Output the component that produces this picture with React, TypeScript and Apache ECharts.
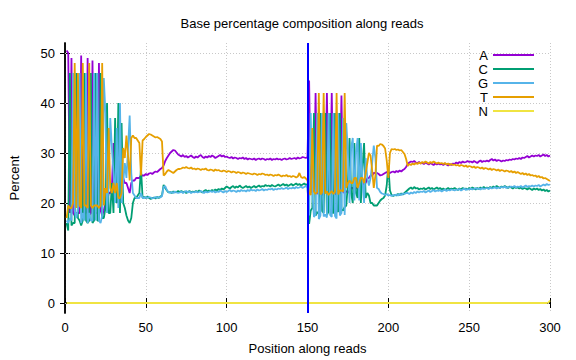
import React, { useEffect, useRef } from "react";
import * as echarts from "echarts";

const titleText = "Base percentage composition along reads";
const xName = "Position along reads";
const yName = "Percent";
const baseNames = ["A", "C", "G", "T", "N"];
const baseColors = ["#9400d3", "#009e73", "#56b4e9", "#e69f00", "#f0e442"];
const xTicks = [0, 50, 100, 150, 200, 250, 300];
const yTicks = [0, 10, 20, 30, 40, 50];
const readBoundary = 150;
const positions = Array.from({ length: 300 }, (_, i) => i + 1);

const aValues = [
  50.5, 50, 18, 49, 18, 17.5, 18, 18, 18, 49.5,
  17.5, 18, 18, 49, 17.5, 18, 48.5, 18, 18, 18,
  48, 18.5, 17.5, 18.5, 20, 20, 22, 22, 23, 32,
  21, 21, 20, 21, 22, 25, 24, 24, 23, 22,
  24, 24.5, 24.5, 25, 25, 25, 25.5, 25.5, 25.5, 25.8,
  25.6, 25.9, 26, 25.8, 26.1, 26.3, 26.2, 26.5, 26.8, 27,
  27.5, 28.4, 29, 29.5, 30, 30.3, 30.6, 30.5, 30.1, 29.7,
  29.5, 29.3, 29.6, 29.2, 29.4, 29.1, 29.3, 29.5, 29.2, 29.0,
  29.3, 29.1, 29.4, 29.6, 29.2, 29.0, 29.3, 29.1, 29.4, 29.2,
  29.5, 29.3, 29.0, 29.2, 29.4, 29.6, 29.3, 29.5, 29.2, 29.3,
  29.1, 29.0, 29.2, 28.9, 29.1, 29.0, 28.8, 29.0, 28.9, 29.1,
  28.8, 29.0, 28.7, 28.9, 28.8, 28.7, 28.9, 28.6, 28.8, 28.9,
  28.7, 28.9, 28.8, 28.6, 28.8, 28.7, 28.9, 28.6, 28.8, 28.7,
  28.9, 28.7, 28.8, 28.6, 28.8, 28.9, 28.7, 28.8, 29.0, 28.8,
  28.9, 29.0, 28.8, 29.1, 28.9, 29.0, 29.2, 29.1, 29.0, 29.2,
  44.5, 22, 24, 22.3, 42, 21.8, 22.4, 22, 21.6, 22.2,
  22.5, 42, 21.8, 22.3, 42, 22, 21.7, 22.4, 22.1, 21.9,
  41.5, 22.2, 22, 22.4, 22, 22.5, 23, 23, 22.5, 23,
  23, 22.5, 23, 23.5, 24, 24, 25, 25, 25.5, 25.5,
  26, 26, 26, 25.8, 25.5, 25.6, 25.8, 26, 26.2, 26,
  26, 26.2, 26.3, 26.1, 26.4, 26.2, 26.5, 26.3, 26.6, 26.8, 27.2,
  27.8, 28.1, 28.3, 28.2, 28.4, 28.1, 28.0, 28.2, 27.9,
  28.0, 27.8, 28.1, 27.9, 27.7, 28.0, 27.8, 27.6, 27.9, 27.7,
  27.9, 27.7, 27.8, 27.6, 27.9, 27.7, 27.5, 27.8, 27.6, 27.9,
  27.8, 28.1, 27.9, 28.2, 28.0, 28.3, 28.1, 28.2, 28.4, 28.2,
  28.3, 28.1, 28.4, 28.2, 28.0, 28.3, 28.5, 28.2, 28.4, 28.3,
  28.5, 28.3, 28.6, 28.8, 28.5, 28.7, 28.4, 28.6, 28.5, 28.3,
  28.5, 28.4, 28.6, 28.5, 28.7, 28.6, 28.8, 28.7, 28.9, 28.8,
  29.0, 28.8, 29.1, 29.0, 29.2, 29.4, 29.1, 29.3, 29.5, 29.3,
  29.5, 29.4, 29.6, 29.3, 29.5, 29.7, 29.4, 29.6, 29.3, 29.5,
];

const cValues = [
  16, 14.5, 46, 15.5, 16, 16, 46, 17, 16.5, 15.5,
  16.5, 46, 16.5, 16, 16.5, 46, 16, 16.5, 46, 16.5,
  16.5, 46, 17, 17, 19, 40, 18, 18, 24, 18,
  37, 20, 40, 18, 36, 20, 19, 17.5, 16.5, 16,
  17, 20, 21, 21, 21.5, 22, 27, 21, 21.2, 21,
  21.3, 21, 20.8, 21, 21.1, 20.9, 21.2, 21, 21.3, 21.5,
  23.6, 23, 22.5, 22.1, 22.2, 22, 22.3, 22.1, 22.2, 22.4,
  22.2, 22.4, 22.1, 22.3, 22.0, 22.2, 22.4, 22.1, 22.3, 22.2,
  22.4, 22.2, 22.5, 22.3, 22.1, 22.4, 22.6, 22.3, 22.5, 22.4,
  22.6, 22.4, 22.7, 22.5, 22.8, 22.6, 22.9, 22.7, 23.0, 23.3,
  23.1, 22.9, 23.2, 23.4, 23.0, 23.3, 23.1, 23.5, 23.2, 23.0,
  23.2, 23.4, 23.1, 23.3, 23.0, 23.2, 23.4, 23.1, 23.3, 23.5,
  23.2, 23.4, 23.3, 23.6, 23.4, 23.5, 23.3, 23.6, 23.4, 23.3,
  23.5, 23.7, 23.4, 23.6, 23.8, 23.5, 23.7, 23.4, 23.6, 23.8,
  23.5, 23.7, 23.9, 23.6, 23.8, 23.5, 23.7, 23.9, 23.6, 23.8,
  15.8, 18.5, 19, 38, 17.5, 18.2, 17.8, 38, 18.4, 18,
  38, 17.6, 18.3, 38, 18.5, 17.9, 38, 18.6, 18.2, 38,
  18.8, 18.5, 19.2, 19.5, 24, 33, 22, 20, 32, 22,
  21, 33, 20, 27, 32, 21, 22, 21.5, 20, 20,
  19.5, 19.5, 19.5, 20, 20.5, 20.8, 21, 21.5, 23.5, 27.5,
  22.5, 21.6, 21.4, 21.6, 21.5, 21.8, 21.6, 21.9, 21.7, 22, 22.3,
  22.6, 22.9, 23.1, 22.8, 23.2, 22.9, 23.0, 22.7, 22.9,
  22.8, 23.0, 22.7, 22.9, 23.1, 22.8, 23.0, 22.7, 22.9, 23.1,
  22.8, 23.0, 22.7, 22.9, 22.6, 22.8, 23.0, 22.7, 22.9, 22.8,
  23.0, 22.8, 22.6, 22.9, 22.7, 23.0, 22.8, 22.9, 22.7, 23.0,
  22.8, 23.1, 22.9, 22.7, 23.0, 22.8, 23.1, 22.9, 23.2, 22.9,
  23.1, 22.9, 23.2, 23.0, 23.3, 23.1, 23.4, 23.2, 23.0, 23.3,
  23.1, 23.4, 23.2, 23.0, 23.3, 23.1, 22.9, 23.2, 23.0, 23.1,
  22.9, 23.1, 22.8, 23.0, 22.9, 22.7, 23.0, 22.8, 22.6, 22.9,
  22.7, 22.9, 22.6, 22.8, 22.5, 22.7, 22.4, 22.6, 22.3, 22.5,
];

const gValues = [
  16.5, 16, 17, 16.5, 46, 18.5, 17, 19, 46, 16,
  18, 16.5, 46, 16, 18, 16.5, 16.5, 46, 16.5, 46,
  16.5, 16, 17.5, 45, 38, 18, 25, 37, 31, 26,
  20, 35, 19, 40, 20, 24, 28, 25, 31, 37.5,
  26, 22, 21.5, 21, 21, 21, 22, 21, 21, 21.2,
  21, 21.2, 21.1, 20.9, 21, 21.2, 21, 21.2, 21.1, 21.4,
  23.2, 23.4, 22.6, 22.2, 22, 22.2, 22, 22.3, 22.1, 22,
  22.1, 22.3, 22.0, 22.2, 22.4, 22.1, 22.3, 22.0, 22.2, 22.1,
  22.3, 22.1, 22.2, 22.4, 22.2, 22.0, 22.3, 22.1, 22.2, 22.4,
  22.2, 22.4, 22.1, 22.3, 22.2, 22.5, 22.3, 22.1, 22.4, 22.2,
  22.4, 22.6, 22.3, 22.5, 22.4, 22.2, 22.5, 22.3, 22.6, 22.4,
  22.5, 22.3, 22.6, 22.4, 22.7, 22.5, 22.6, 22.4, 22.7, 22.5,
  22.6, 22.8, 22.5, 22.7, 22.6, 22.8, 22.7, 22.9, 22.6, 22.8,
  22.7, 22.9, 22.8, 23.0, 22.8, 22.9, 23.1, 22.8, 23.0, 22.9,
  23.1, 22.9, 23.2, 23.0, 23.1, 23.3, 23.0, 23.2, 23.4, 23.1,
  17.5, 38, 22, 17.2, 17.8, 38, 16.8, 17.5, 38, 17.3,
  17.7, 17.1, 38, 17.6, 17.2, 38, 17.4, 16.9, 38, 17.5,
  18, 37, 17.6, 36, 30, 20, 31, 33, 20.5, 30,
  33, 20.5, 32, 24.5, 20, 29, 25, 23.5, 25, 28,
  31.5, 29, 23, 22.8, 22.2, 21.9, 21.8, 21.6, 21.8, 21.5,
  21.6, 21.4, 21.6, 21.5, 21.7, 21.5, 21.8, 21.6, 21.9, 21.8, 22,
  22.0, 21.8, 22.1, 21.9, 22.2, 22.0, 22.3, 22.1, 22.3,
  22.2, 22.4, 22.1, 22.3, 22.5, 22.2, 22.4, 22.6, 22.3, 22.5,
  22.4, 22.6, 22.3, 22.5, 22.7, 22.4, 22.6, 22.5, 22.7, 22.6,
  22.5, 22.7, 22.6, 22.8, 22.5, 22.7, 22.9, 22.6, 22.8, 22.7,
  22.9, 22.7, 22.8, 23.0, 22.8, 22.9, 22.7, 23.0, 22.8, 22.9,
  23.0, 22.8, 23.1, 22.9, 23.0, 23.2, 22.9, 23.1, 23.0, 23.2,
  23.1, 23.3, 23.0, 23.2, 23.1, 23.3, 23.2, 23.4, 23.1, 23.3,
  23.2, 23.4, 23.1, 23.3, 23.5, 23.2, 23.4, 23.3, 23.5, 23.3,
  23.5, 23.4, 23.6, 23.3, 23.5, 23.7, 23.5, 23.8, 23.6, 23.7,
];

const tValues = [
  17, 19.5, 19, 19, 20, 48, 19, 46, 19.5, 19,
  48, 19.5, 19.5, 19, 48, 19.5, 19, 19.5, 19.5, 19.5,
  19, 19.5, 48, 19.5, 23, 22, 35, 23, 22, 24,
  22, 24, 21, 21, 22, 31, 29, 33.5, 29.5, 24.5,
  33, 33.5, 33, 33, 32.5, 32, 25.5, 32.5, 32.8, 33.2,
  33.5, 33.8, 33.7, 33.5, 33.3, 33.1, 33.2, 33, 32.8, 32.3,
  25.5, 25.8, 26.3, 26.6, 26.4, 26.2, 26, 26.3, 26.6, 26.8,
  26.8, 26.9, 27.1, 27.0, 27.2, 27.0, 26.9, 27.1, 26.8, 26.9,
  26.7, 26.9, 26.8, 26.6, 26.8, 26.7, 26.9, 26.6, 26.5, 26.7,
  26.6, 26.4, 26.7, 26.5, 26.6, 26.4, 26.3, 26.5, 26.4, 26.2,
  26.4, 26.3, 26.1, 26.3, 26.2, 26.0, 26.2, 26.1, 25.9, 26.1,
  26.0, 25.8, 26.0, 25.9, 25.8, 25.7, 25.9, 25.8, 25.6, 25.8,
  25.7, 25.9, 25.8, 25.6, 25.7, 25.5, 25.7, 25.6, 25.4, 25.6,
  25.5, 25.7, 25.5, 25.3, 25.5, 25.4, 25.6, 25.3, 25.4, 25.2,
  25.4, 25.3, 25.1, 25.3, 26.0, 25.2, 25.0, 25.2, 24.9, 24.5,
  22, 21.6, 35, 22.3, 21.8, 22.2, 42, 21.7, 22.1, 42,
  21.9, 22.3, 21.6, 22, 22.4, 21.8, 22.2, 42, 21.7, 22.5,
  22.5, 22.3, 42, 23, 24, 24.5, 24, 24, 25, 25,
  23, 24, 25, 25, 24, 26, 28, 30, 29.5, 26.5,
  23, 25.5, 31.5, 31.4, 31.8, 31.7, 31.4, 30.9, 28.5, 25,
  30, 30.8, 30.7, 30.8, 30.6, 30.7, 30.5, 30.6, 30.2, 29.8, 28.8,
  27.4, 27.8, 27.6, 27.9, 27.7, 28.0, 27.8, 28.1, 27.9,
  28.2, 28.0, 28.3, 28.1, 27.9, 28.2, 28.0, 28.3, 28.1, 27.9,
  28.1, 27.9, 28.0, 27.8, 28.0, 27.7, 27.9, 27.6, 27.8, 27.6,
  27.7, 27.5, 27.6, 27.4, 27.6, 27.5, 27.3, 27.5, 27.2, 27.4,
  27.3, 27.1, 27.3, 27.0, 27.2, 27.1, 26.9, 27.1, 26.8, 27.0,
  26.9, 26.7, 26.9, 26.6, 26.8, 26.7, 26.5, 26.7, 26.4, 26.6,
  26.5, 26.3, 26.5, 26.4, 26.2, 26.4, 26.1, 26.3, 26.0, 26.2,
  26.0, 25.8, 26.0, 25.7, 25.9, 25.6, 25.8, 25.5, 25.6, 25.4,
  25.5, 25.2, 25.4, 25.1, 25.2, 24.9, 25.0, 24.8, 24.6, 24.4,
];

const nValues = [
  0, 0, 0, 0, 0, 0, 0, 0, 0, 0, 0, 0, 0, 0, 0, 0, 0, 0, 0, 0, 0, 0, 0, 0, 0, 0, 0, 0, 0, 0,
  0, 0, 0, 0, 0, 0, 0, 0, 0, 0, 0, 0, 0, 0, 0, 0, 0, 0, 0, 0, 0, 0, 0, 0, 0, 0, 0, 0, 0, 0,
  0, 0, 0, 0, 0, 0, 0, 0, 0, 0, 0, 0, 0, 0, 0, 0, 0, 0, 0, 0, 0, 0, 0, 0, 0, 0, 0, 0, 0, 0,
  0, 0, 0, 0, 0, 0, 0, 0, 0, 0, 0, 0, 0, 0, 0, 0, 0, 0, 0, 0, 0, 0, 0, 0, 0, 0, 0, 0, 0, 0,
  0, 0, 0, 0, 0, 0, 0, 0, 0, 0, 0, 0, 0, 0, 0, 0, 0, 0, 0, 0, 0, 0, 0, 0, 0, 0, 0, 0, 0, 0,
  0, 0, 0, 0, 0, 0, 0, 0, 0, 0, 0, 0, 0, 0, 0, 0, 0, 0, 0, 0, 0, 0, 0, 0, 0, 0, 0, 0, 0, 0,
  0, 0, 0, 0, 0, 0, 0, 0, 0, 0, 0, 0, 0, 0, 0, 0, 0, 0, 0, 0, 0, 0, 0, 0, 0, 0, 0, 0, 0, 0,
  0, 0, 0, 0, 0, 0, 0, 0, 0, 0, 0, 0, 0, 0, 0, 0, 0, 0, 0, 0, 0, 0, 0, 0, 0, 0, 0, 0, 0, 0,
  0, 0, 0, 0, 0, 0, 0, 0, 0, 0, 0, 0, 0, 0, 0, 0, 0, 0, 0, 0, 0, 0, 0, 0, 0, 0, 0, 0, 0, 0,
  0, 0, 0, 0, 0, 0, 0, 0, 0, 0, 0, 0, 0, 0, 0, 0, 0, 0, 0, 0, 0, 0, 0, 0, 0, 0, 0, 0, 0.1, 0.5,
];

const baseValues = [aValues, cValues, gValues, tValues, nValues];

export default function App() {
  const ref = useRef<HTMLDivElement>(null);

  useEffect(() => {
    if (!ref.current) return;
    const chart = echarts.init(ref.current, null, { renderer: "svg" });
    const font = "'Liberation Sans', Arial, Helvetica, sans-serif";
    const gridLine = { color: "#c8c8c8", type: [1, 2] as any, width: 1 };
    const border = { show: true, lineStyle: { color: "#000", width: 1.5 } };
    const tick = { show: true, inside: true, length: 5, lineStyle: { color: "#000", width: 1 } };

    const series: any[] = baseNames.map((name, k) => ({
      name,
      type: "line",
      data: positions.map((p, i) => [p, baseValues[k][i]]),
      showSymbol: false,
      symbol: "none",
      lineStyle: { width: 1.8, color: baseColors[k] },
      itemStyle: { color: baseColors[k] },
      z: 2,
    }));

    // horizontal grid lines (dotted) under the data
    series[0].markLine = {
      silent: true,
      z: 1,
      symbol: ["none", "none"],
      label: { show: false },
      lineStyle: gridLine,
      data: yTicks.map((v) => ({ yAxis: v })),
    };
    // read boundary (own series, kept out of the legend)
    series.push({
      name: "boundary",
      type: "line",
      data: [],
      showSymbol: false,
      z: 3,
      markLine: {
        silent: true,
        z: 6,
        symbol: ["none", "none"],
        label: { show: false },
        lineStyle: { color: "#0000ff", width: 2, type: "solid" },
        data: [{ xAxis: readBoundary }],
      },
    });

    chart.setOption({
      animation: false,
      backgroundColor: "#fff",
      textStyle: { fontFamily: font },
      grid: { left: 61, right: 26, top: 43, bottom: 46, containLabel: false },
      graphic: [
        {
          type: "text",
          x: 302,
          y: 23,
          style: {
            text: titleText,
            fontSize: 13,
            fontFamily: font,
            fill: "#000",
            textAlign: "center",
            textVerticalAlign: "middle",
            align: "center",
            verticalAlign: "middle",
          },
        },
      ],
      legend: {
        data: baseNames.map((name) => ({ name, textStyle: { color: "#000" } })),
        orient: "vertical",
        right: 42,
        top: 48,
        padding: 0,
        align: "right",
        icon: "rect",
        itemWidth: 41,
        itemHeight: 2,
        itemGap: 0,
        selectedMode: false,
        textStyle: { fontSize: 13, color: "#000", lineHeight: 14, fontFamily: font },
      },
      xAxis: [
        {
          type: "value",
          min: xTicks[0],
          max: xTicks[xTicks.length - 1],
          interval: 50,
          position: "bottom",
          axisLine: border,
          axisTick: tick,
          axisLabel: { color: "#000", fontSize: 13, fontFamily: font, margin: 8 },
          splitLine: { show: true, lineStyle: gridLine },
          name: xName,
          nameLocation: "middle",
          nameGap: 29,
          nameTextStyle: { color: "#000", fontSize: 13, fontFamily: font },
        },
        {
          type: "value",
          min: xTicks[0],
          max: xTicks[xTicks.length - 1],
          interval: 50,
          position: "top",
          axisLine: border,
          axisTick: tick,
          axisLabel: { show: false },
          splitLine: { show: false },
        },
      ],
      yAxis: [
        {
          type: "value",
          min: -2,
          max: 52,
          position: "left",
          axisLine: border,
          axisTick: { ...tick, customValues: yTicks },
          axisLabel: { color: "#000", fontSize: 13, fontFamily: font, margin: 10, customValues: yTicks },
          splitLine: { show: false },
          name: yName,
          nameLocation: "middle",
          nameGap: 44,
          nameRotate: 90,
          nameTextStyle: { color: "#000", fontSize: 13, fontFamily: font },
        },
        {
          type: "value",
          min: -2,
          max: 52,
          position: "right",
          axisLine: border,
          axisTick: { ...tick, customValues: yTicks },
          axisLabel: { show: false },
          splitLine: { show: false },
        },
      ],
      series,
    });

    return () => chart.dispose();
  }, []);

  return (
    <div
      ref={ref}
      style={{ position: "absolute", left: 0, top: 0, width: 576, height: 360 }}
    />
  );
}
